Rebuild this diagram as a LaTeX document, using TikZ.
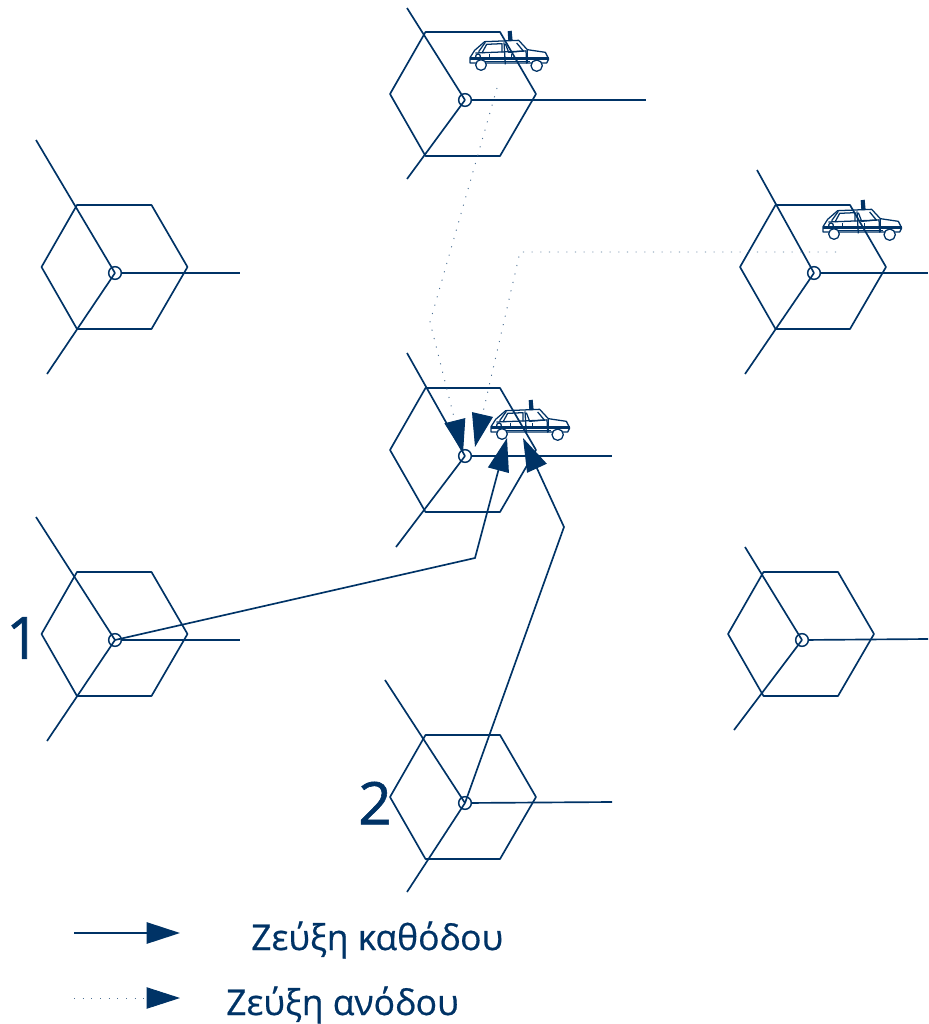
\documentclass[tikz,border=0pt]{standalone}
\usepackage{fontspec}
\setmainfont{Open Sans}
\usetikzlibrary{arrows.meta}
\definecolor{navy}{RGB}{0,51,102}
\tikzset{
  cellline/.style={draw=navy,line width=1.25pt,line join=round},
  hub/.style={circle,draw=navy,line width=1.1pt,inner sep=0pt,minimum size=9.5pt},
  carline/.style={draw=navy,line width=.95pt,line join=round},
  solidlink/.style={draw=navy,line width=1.25pt,-{Triangle[length=25pt,width=16pt,color=navy,fill=navy]}},
  dotlink/.style={draw=navy!70,line width=.7pt,dash pattern=on .8pt off 5.7pt,-{Triangle[length=25pt,width=16pt,color=navy,fill=navy]}},
  lbl/.style={text=navy,font=\fontsize{26.6pt}{30pt}\selectfont\addfontfeature{FakeBold=0.6},inner sep=0pt},
  numlbl/.style={text=navy,font=\fontsize{44pt}{48pt}\selectfont\addfontfeature{FakeBold=1},inner sep=0pt}
}
% name, hexagon centre x y, hub x y, spoke ends (x,y)x3
\newcommand{\hexcell}[7]{%
  \draw[cellline] (#2-73,#3) -- (#2-37.5,#3-62) -- (#2+37,#3-62) -- (#2+73,#3) -- (#2+37,#3+62) -- (#2-37.5,#3+62) -- cycle;
  \node[hub] (#1) at (#4) {};
  \draw[cellline] (#5) -- (#1.center);
  \draw[cellline] (#6) -- (#1.center);
  \draw[cellline] (#1) -- (#7);
}
\newcommand{\carat}[2]{%
  \begin{scope}[shift={(#1,#2)},x=.25pt,y=-.25pt]
    \draw[carline] (0,-4) -- (14,-26) -- (44,-52) -- (146,-56) -- (172,-28) -- (226,-20) -- (236,0) -- (230,12) -- (0,12) -- cycle;
    \draw[carline] (0,0) -- (236,0);
    \draw[carline] (0,-4) -- (236,-4);
    \draw[carline] (16,-18) -- (170,-24);
    \draw[carline] (26,-22) -- (46,-50);
    \draw[carline] (36,-18) -- (50,-44) -- (96,-46) -- (96,-20);
    \draw[carline] (106,-46) -- (116,-20) -- (160,-24) -- (140,-48);
    \draw[carline] (102,-50) -- (106,16);
    \draw[carline] (30,8) -- (180,8);
    \draw[carline] (168,-26) -- (170,14);
    \draw[carline] (172,-28) -- (172,12);
    \fill[navy] (113,-83) -- (125,-85) -- (128,-54) -- (115,-54) -- cycle;
    \draw[carline,fill=white] (33,18) circle (16);
    \draw[carline,fill=white] (200,20) circle (17);
    \draw[carline] (24,-8) circle (7);
    \draw[carline] (58,-14) -- (58,-4);
    \draw[carline] (124,-14) -- (124,-4);
  \end{scope}
}
\begin{document}
\begin{tikzpicture}[x=.75pt,y=-.75pt]
\useasboundingbox (0,0) rectangle (928,1024);
\hexcell{ca}{463}{94}{465,100}{407,8}{407,179}{646,100}
\hexcell{cb}{114.5}{267}{115,273}{36,140}{47,374}{240,273}
\hexcell{cc}{813}{267}{814,273}{757,170}{745,374}{928,273}
\hexcell{cd}{463}{450}{465,456}{407,353}{396,547}{612,456}
\hexcell{ce}{114.5}{634}{115,640}{36,517}{47,741}{240,640}
\hexcell{cf}{801}{634}{802,640}{745,547}{734,730}{928,639}
\hexcell{cg}{463}{797}{465,803}{385,680}{407,892}{612,802}
\carat{470}{59}
\carat{823}{228}
\carat{491}{428}
% connector ends
\coordinate (t1) at (463,453);
\coordinate (t2) at (475,447);
\coordinate (t3) at (507,438);
\coordinate (t4) at (523,438);
\coordinate (s1) at (497,88);
\coordinate (b1) at (430,322);
\coordinate (s2) at (836,252);
\coordinate (b2) at (520,252);
\coordinate (b3) at (475,558);
\coordinate (b4) at (564,527);
\draw[dotlink] (s1) -- (b1) -- (t1);
\draw[dotlink] (s2) -- (b2) -- (t2);
\draw[solidlink] (ce.center) -- (b3) -- (t3);
\draw[solidlink] (cg.center) -- (b4) -- (t4);
% labels
\node[numlbl] (n1) at (23,638) {1};
\node[numlbl] (n2) at (375,803) {2};
% legend
\coordinate (l1) at (74,933);
\coordinate (l2) at (180,933);
\coordinate (l3) at (74,998);
\coordinate (l4) at (180,998);
\draw[solidlink] (l1) -- (l2);
\draw[dotlink] (l3) -- (l4);
\node[lbl,anchor=base west] (k1) at (251,950) {Ζεύξη καθόδου};
\node[lbl,anchor=base west] (k2) at (226,1015) {Ζεύξη ανόδου};
\end{tikzpicture}
\end{document}
